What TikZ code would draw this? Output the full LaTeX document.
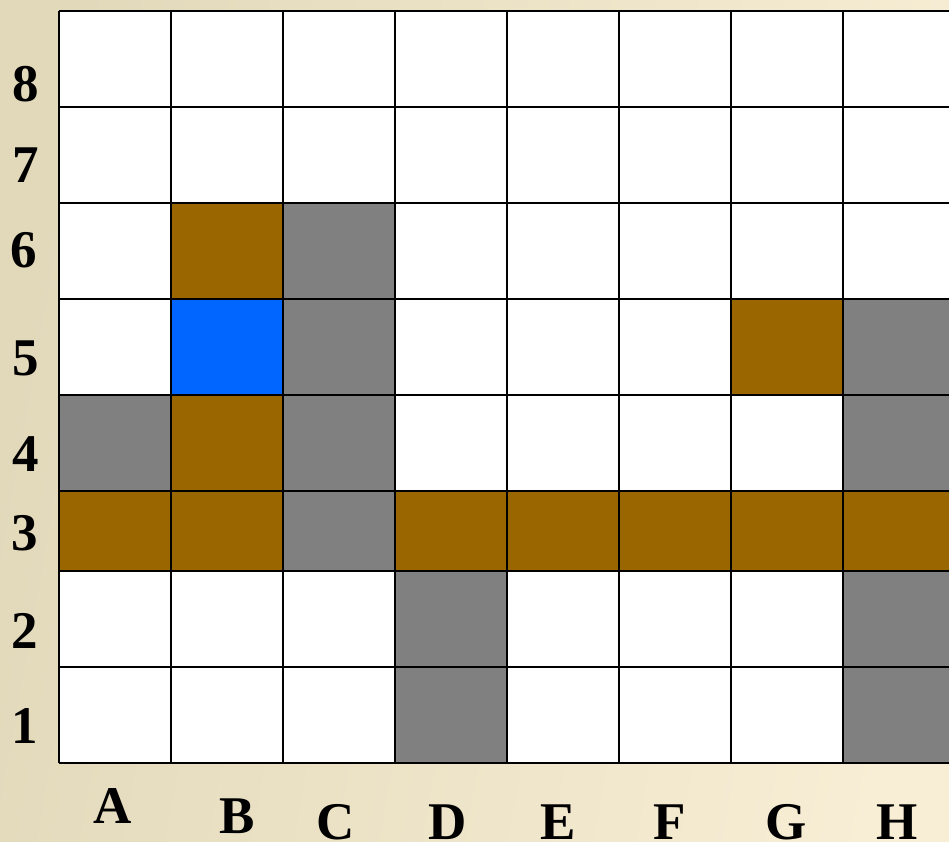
\documentclass[tikz,border=0pt]{standalone}
\usepackage{fontspec}
\setmainfont{Liberation Serif}
\usepackage{tikz}

\definecolor{bgdark}{HTML}{E2D8BA}
\definecolor{bglight}{HTML}{F8EED5}
\definecolor{wallbrown}{HTML}{996600}
\definecolor{blockgray}{HTML}{808080}
\definecolor{startblue}{HTML}{0066FF}

\begin{document}
\begin{tikzpicture}[
    x=1pt, y=-1pt,
    coordlabel/.style={anchor=base, inner sep=0pt, text depth=0pt, font=\fontsize{53}{60}\selectfont\bfseries},
    gridline/.style={draw=black, line width=2pt}
]
% background
\shade[left color=bgdark, right color=bglight, shading angle=80] (0,0) rectangle (949,842);
\useasboundingbox (0,0) rectangle (949,842);
\clip (0,0) rectangle (949,842);

% board
\fill[white] (59,11) rectangle (955,763);
% row 6
\fill[wallbrown] (171,203) rectangle (283,299);
\fill[blockgray] (283,203) rectangle (395,299);
% row 5
\fill[startblue] (171,299) rectangle (283,395);
\fill[blockgray] (283,299) rectangle (395,395);
\fill[wallbrown] (731,299) rectangle (843,395);
\fill[blockgray] (843,299) rectangle (955,395);
% row 4
\fill[blockgray] (59,395) rectangle (171,491);
\fill[wallbrown] (171,395) rectangle (283,491);
\fill[blockgray] (283,395) rectangle (395,491);
\fill[blockgray] (843,395) rectangle (955,491);
% row 3
\fill[wallbrown] (59,491) rectangle (283,571);
\fill[blockgray] (283,491) rectangle (395,571);
\fill[wallbrown] (395,491) rectangle (955,571);
% rows 2 and 1
\fill[blockgray] (395,571) rectangle (507,763);
\fill[blockgray] (843,571) rectangle (955,763);

% grid lines
\foreach \gx in {59,171,283,395,507,619,731,843,955}
  \draw[gridline] (\gx,11) -- (\gx,763);
\foreach \gy in {11,107,203,299,395,491,571,667,763}
  \draw[gridline] (59,\gy) -- (955,\gy);

% row labels
\node[coordlabel] (row8) at (26,102) {8};
\node[coordlabel] (row7) at (26,183) {7};
\node[coordlabel] (row6) at (24,267) {6};
\node[coordlabel] (row5) at (26,375) {5};
\node[coordlabel] (row4) at (26,471) {4};
\node[coordlabel] (row3) at (25,550) {3};
\node[coordlabel] (row2) at (25,648) {2};
\node[coordlabel] (row1) at (25,743) {1};

% column labels
\node[coordlabel] (colA) at (113,823) {A};
\node[coordlabel] (colB) at (237,833) {B};
\node[coordlabel] (colC) at (336,839) {C};
\node[coordlabel] (colD) at (448,839) {D};
\node[coordlabel] (colE) at (558,839) {E};
\node[coordlabel] (colF) at (670,839) {F};
\node[coordlabel] (colG) at (786,839) {G};
\node[coordlabel] (colH) at (897,839) {H};
\end{tikzpicture}
\end{document}
